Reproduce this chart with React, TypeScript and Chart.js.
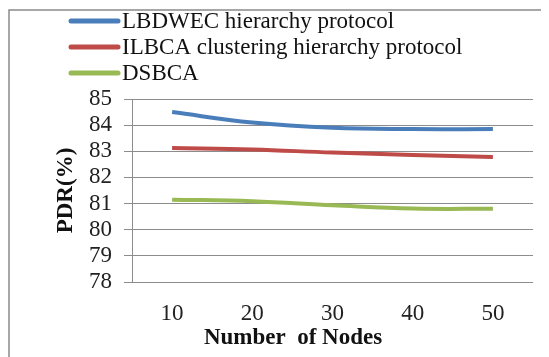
import React, { useEffect, useRef } from "react";
import { Chart, registerables } from "chart.js";

Chart.register(...registerables);

const categories = ["10", "20", "30", "40", "50"];
const seriesNames = ["LBDWEC hierarchy protocol", "ILBCA clustering hierarchy protocol", "DSBCA"];
const lbdwec = [84.5, 84.1, 83.9, 83.85, 83.85];
const ilbca = [83.13, 83.07, 82.95, 82.86, 82.78];
const dsbca = [81.15, 81.09, 80.94, 80.81, 80.8];
const colors = ["#4a7ebb", "#be4b48", "#98b954"];
const yTitle = "PDR(%)";
const xTitle = "Number  of Nodes";
const yMin = 78;
const yMax = 85;

const FONT = "'Liberation Serif', 'Times New Roman', serif";

const decorPlugin = {
  id: "decor",
  afterDraw(chart: any) {
    const ctx = chart.ctx;
    const area = chart.chartArea;
    ctx.save();
    // outer frame (left/top)
    ctx.strokeStyle = "#8a8a8a";
    ctx.lineWidth = 1.5;
    ctx.beginPath();
    ctx.moveTo(1, chart.height);
    ctx.lineTo(1, 2);
    ctx.lineTo(chart.width, 2);
    ctx.stroke();
    // legend
    const ys = [13, 39, 65];
    chart.data.datasets.forEach((ds: any, i: number) => {
      ctx.strokeStyle = ds.borderColor;
      ctx.lineWidth = 5;
      ctx.lineCap = "round";
      ctx.beginPath();
      ctx.moveTo(63, ys[i]);
      ctx.lineTo(110, ys[i]);
      ctx.stroke();
      ctx.fillStyle = "#111";
      ctx.font = `23px ${FONT}`;
      ctx.textAlign = "left";
      ctx.textBaseline = "middle";
      ctx.fillText(ds.label, 114, ys[i] + 1);
    });
    // axis titles
    ctx.fillStyle = "#111";
    ctx.font = `bold 23px ${FONT}`;
    ctx.textAlign = "center";
    ctx.textBaseline = "middle";
    ctx.fillText(xTitle, 285, 330);
    ctx.translate(58, (area.top + area.bottom) / 2);
    ctx.rotate(-Math.PI / 2);
    ctx.fillText(yTitle, 0, 0);
    ctx.restore();
  },
};

export default function App() {
  const ref = useRef<HTMLCanvasElement>(null);
  useEffect(() => {
    if (!ref.current) return;
    const data = [lbdwec, ilbca, dsbca];
    const chart = new Chart(ref.current, {
      type: "line",
      data: {
        labels: categories,
        datasets: seriesNames.map((name, i) => ({
          label: name,
          data: data[i],
          borderColor: colors[i],
          backgroundColor: colors[i],
          borderWidth: 4,
          pointRadius: 0,
          tension: 0.4,
          fill: false,
        })),
      },
      options: {
        animation: false,
        responsive: false,
        layout: { padding: { top: 91, right: 16, left: 0, bottom: 0 } },
        plugins: { legend: { display: false }, tooltip: { enabled: false } },
        scales: {
          x: {
            type: "category",
            offset: true,
            grid: { display: false, drawTicks: false },
            border: { display: false },
            ticks: { font: { family: FONT, size: 23 }, color: "#222", padding: 18, maxRotation: 0 },
            afterFit(scale: any) {
              scale.height = 75;
            },
          },
          y: {
            min: yMin,
            max: yMax,
            ticks: {
              stepSize: 1,
              autoSkip: false,
              font: { family: FONT, size: 23, lineHeight: 1 },
              color: "#222",
              padding: 12,
            },
            grid: { color: "#8c8c8c", lineWidth: 1, tickLength: 8 },
            border: { display: true, color: "#8c8c8c", width: 1 },
            afterFit(scale: any) {
              scale.width = 124;
            },
          },
        },
      },
      plugins: [decorPlugin],
    });
    return () => chart.destroy();
  }, []);
  return <canvas ref={ref} width={541} height={349} style={{ display: "block" }} />;
}
